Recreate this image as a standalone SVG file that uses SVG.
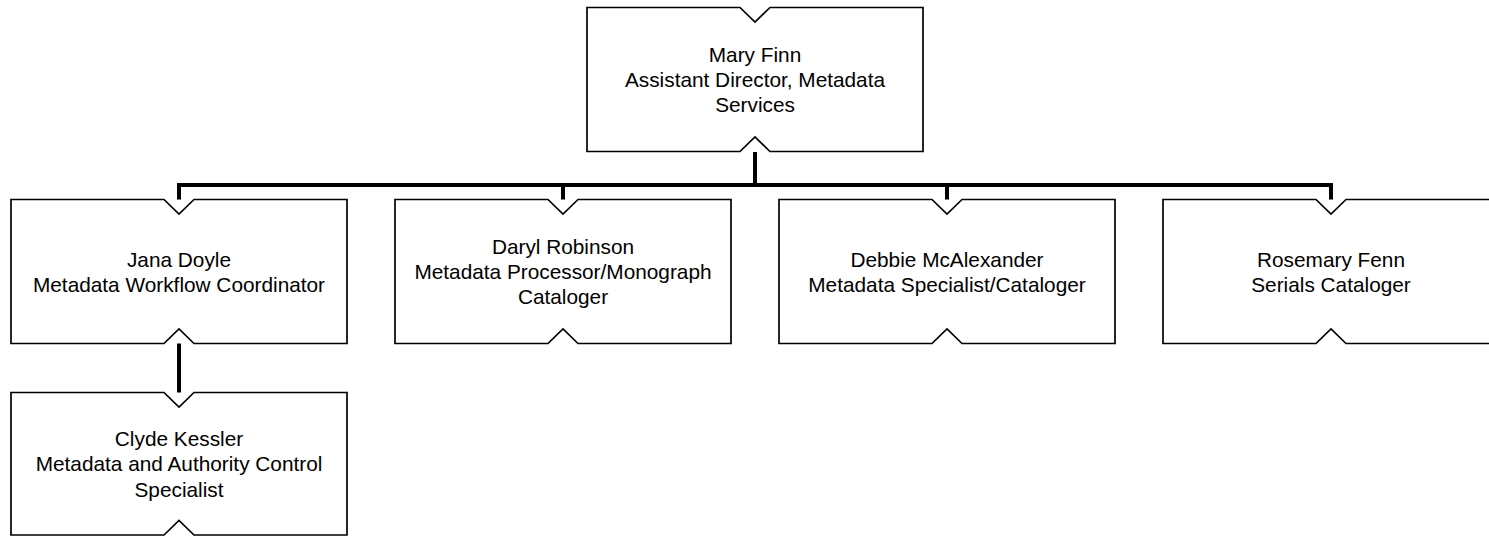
<svg xmlns="http://www.w3.org/2000/svg" width="1489" height="537" viewBox="0 0 1489 537">
<style>
.box{fill:#ffffff;stroke:#000000;stroke-width:1.7;stroke-linejoin:miter}
.lbl{font-family:"Liberation Sans",Arial,sans-serif;font-size:20.8px;fill:#000000;text-anchor:middle}
.conn{fill:none;stroke:#000000;stroke-width:4;stroke-linecap:butt;stroke-linejoin:miter}
</style>
<rect width="1489" height="537" fill="#ffffff"/>
<g id="connectors">
<path class="conn" d="M755,152 V185"/>
<path class="conn" d="M179,199.5 V185 H1331 V199.5"/>
<path class="conn" d="M563,185 V199.5"/>
<path class="conn" d="M947,185 V199.5"/>
<path class="conn" d="M179,343.5 V392.5"/>
</g>
<g id="node-mary-finn">
<path class="box" d="M587,7.5 H740 L755,22 L770,7.5 H923 V151.5 H770 L755,137 L740,151.5 H587 Z"/>
<text class="lbl"><tspan x="755" y="61.5">Mary Finn</tspan><tspan x="755" y="86.5">Assistant Director, Metadata</tspan><tspan x="755" y="111.5">Services</tspan></text>
</g>
<g id="node-jana-doyle">
<path class="box" d="M11,199.5 H164 L179,214 L194,199.5 H347 V343.5 H194 L179,329 L164,343.5 H11 Z"/>
<text class="lbl"><tspan x="179" y="266.5">Jana Doyle</tspan><tspan x="179" y="291.5">Metadata Workflow Coordinator</tspan></text>
</g>
<g id="node-daryl-robinson">
<path class="box" d="M395,199.5 H548 L563,214 L578,199.5 H731 V343.5 H578 L563,329 L548,343.5 H395 Z"/>
<text class="lbl"><tspan x="563" y="253.5">Daryl Robinson</tspan><tspan x="563" y="278.8">Metadata Processor/Monograph</tspan><tspan x="563" y="304">Cataloger</tspan></text>
</g>
<g id="node-debbie-mcalexander">
<path class="box" d="M779,199.5 H932 L947,214 L962,199.5 H1115 V343.5 H962 L947,329 L932,343.5 H779 Z"/>
<text class="lbl"><tspan x="947" y="266.5">Debbie McAlexander</tspan><tspan x="947" y="291.5">Metadata Specialist/Cataloger</tspan></text>
</g>
<g id="node-rosemary-fenn">
<path class="box" d="M1163,199.5 H1316 L1331,214 L1346,199.5 H1499 V343.5 H1346 L1331,329 L1316,343.5 H1163 Z"/>
<text class="lbl"><tspan x="1331" y="266.5">Rosemary Fenn</tspan><tspan x="1331" y="291.5">Serials Cataloger</tspan></text>
</g>
<g id="node-clyde-kessler">
<path class="box" d="M11,392.5 H164 L179,407 L194,392.5 H347 V535 H194 L179,520.5 L164,535 H11 Z"/>
<text class="lbl"><tspan x="179" y="445.5">Clyde Kessler</tspan><tspan x="179" y="471">Metadata and Authority Control</tspan><tspan x="179" y="496.5">Specialist</tspan></text>
</g>
</svg>
